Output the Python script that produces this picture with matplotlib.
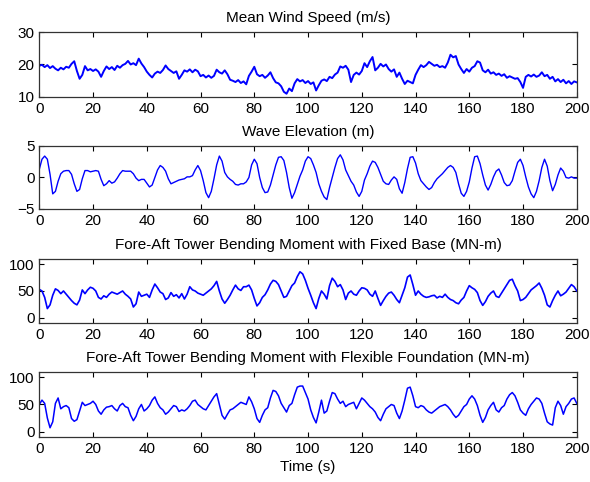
import numpy as np
import matplotlib.pyplot as plt

# Tempo (s), amostrado a cada 1 s
t = np.arange(0, 201)

# Velocidade média do vento (m/s)
wind = [19.6, 19.9, 19.2, 19.8, 18.9, 19.5, 18.7, 18.2, 19.0, 18.5,
        19.3, 19.0, 20.2, 21.0, 18.0, 15.6, 16.8, 19.5, 18.2, 18.6,
        18.0, 18.5, 17.8, 16.2, 18.0, 19.4, 18.6, 19.2, 18.3, 19.6,
        19.0, 19.8, 20.2, 21.1, 20.0, 20.4, 19.8, 21.8, 20.3, 19.2,
        17.8, 16.8, 16.0, 17.2, 17.8, 17.4, 18.3, 19.7, 18.6, 18.0,
        17.4, 17.9, 15.6, 16.8, 18.2, 17.8, 18.5, 17.6, 18.4, 17.9,
        16.4, 16.8, 16.0, 16.6, 15.9, 16.5, 18.4, 17.6, 17.2, 18.2,
        17.0, 15.3, 15.0, 14.6, 15.2, 14.3, 14.8, 13.9, 16.5, 17.8,
        19.3, 17.0, 16.4, 16.8, 15.9, 16.6, 17.6, 15.8, 14.5, 14.2,
        13.3, 11.6, 11.0, 12.6, 11.8, 14.2, 15.5, 14.8, 15.2, 14.3,
        14.9, 14.0, 14.5, 12.0, 13.6, 15.0, 15.4, 14.9, 16.2, 15.8,
        16.9, 17.5, 19.4, 19.0, 19.6, 18.4, 14.6, 16.8, 17.5, 16.9,
        18.0, 20.4, 19.2, 21.0, 22.3, 18.2, 19.0, 20.2, 19.4, 20.0,
        18.6, 17.8, 18.5, 16.2, 17.5, 15.6, 14.0, 15.0, 14.6, 14.2,
        16.8, 18.4, 19.8, 19.2, 19.8, 20.8, 20.2, 19.6, 19.9, 19.2,
        19.5, 19.0, 20.6, 23.0, 22.2, 22.6, 20.0, 18.6, 17.4, 18.6,
        17.8, 19.0, 19.5, 21.0, 20.6, 18.2, 17.6, 18.4, 17.2, 17.6,
        16.8, 17.2, 16.5, 17.0, 15.9, 16.4, 16.0, 15.6, 15.8, 14.6,
        12.8, 16.2, 16.8, 16.3, 16.9, 16.2, 16.6, 17.6, 16.4, 16.8,
        15.6, 16.2, 14.8, 15.5, 14.6, 15.3, 14.2, 14.9, 14.0, 14.8,
        14.5]

# Elevação da onda (m)
wave = [1.3, 2.9, 3.4, 2.9, 0.5, -2.6, -2.2, -0.6, 0.6, 1.0,
        1.1, 1.1, 0.5, -1.0, -2.2, -1.9, -0.2, 1.1, 1.1, 0.9,
        1.0, 1.1, 1.0, -0.3, -1.3, -1.0, -0.5, -0.9, -0.7, -0.1,
        0.6, 1.1, 1.0, 1.0, 1.0, 0.6, -0.1, -0.5, -0.3, -0.3,
        -0.9, -1.5, -1.2, 0.0, 1.2, 1.9, 1.6, 1.0, -0.2, -1.0,
        -0.8, -0.6, -0.4, -0.3, -0.2, 0.1, 0.1, 0.3, 1.2, 1.9,
        1.1, -0.5, -2.4, -3.2, -2.2, -0.2, 2.0, 3.4, 2.6, 0.8,
        0.1, -0.3, -0.6, -1.1, -1.2, -1.0, -1.0, -0.7, 0.0, 2.0,
        2.9, 2.2, 0.0, -1.6, -2.4, -2.3, -1.2, 0.4, 2.0, 3.2,
        3.3, 2.7, 0.8, -1.6, -3.3, -2.4, -1.1, 0.2, 1.2, 2.6,
        3.3, 3.0, 2.0, 0.8, -1.0, -2.2, -3.1, -3.5, -1.6, 0.0,
        1.6, 3.0, 3.6, 2.8, 1.2, 0.3, -0.6, -1.2, -2.3, -3.0,
        -2.2, -0.4, 0.6, 1.8, 2.6, 2.4, 1.6, 0.5, -0.6, -1.0,
        -1.1, -0.4, 0.1, -0.3, -1.8, -2.5, -0.8, 1.4, 3.2, 3.3,
        2.3, 0.6, -0.5, -1.0, -1.5, -1.9, -1.6, -0.8, -0.2, 0.2,
        0.6, 1.1, 1.6, 1.9, 1.6, 0.8, -1.0, -2.5, -3.0, -2.2,
        -0.7, 1.5, 3.3, 3.4, 2.2, 0.4, -1.2, -2.0, -1.1, 0.1,
        1.0, 1.35, 0.4, -0.8, -1.3, -1.2, -0.5, 1.0, 2.4, 2.9,
        1.9, 0.1, -1.5, -2.6, -3.2, -2.2, -0.5, 1.6, 2.9, 1.8,
        -0.5, -2.1, -1.1, 0.4, 1.5, 1.0, 0.0, -0.1, 0.1, -0.1,
        -0.1]

# Momento fletor fore-aft da torre, base fixa (MN-m)
m_fixed = [53, 50, 38, 17, 24, 42, 54, 51, 45, 50,
           44, 38, 32, 27, 24, 33, 52, 45, 52, 57,
           55, 50, 38, 35, 41, 38, 44, 48, 46, 44,
           47, 50, 44, 40, 35, 20, 26, 48, 40, 42,
           44, 38, 52, 63, 56, 48, 45, 34, 37, 47,
           40, 43, 37, 45, 35, 44, 58, 52, 50, 46,
           44, 42, 46, 50, 54, 60, 68, 50, 35, 27,
           34, 42, 52, 61, 54, 51, 58, 58, 61, 52,
           36, 22, 28, 38, 43, 52, 63, 70, 68, 62,
           50, 38, 40, 50, 60, 65, 77, 86, 82, 70,
           55, 42, 28, 17, 36, 50, 44, 35, 60, 74,
           68, 58, 62, 52, 34, 46, 50, 44, 42, 50,
           56, 55, 52, 44, 40, 50, 36, 23, 32, 40,
           46, 48, 42, 34, 28, 42, 56, 76, 80, 62,
           42, 50, 44, 40, 38, 39, 41, 42, 37, 40,
           38, 44, 38, 34, 32, 28, 26, 33, 38, 50,
           60, 56, 53, 47, 32, 23, 30, 40, 46, 50,
           40, 38, 46, 54, 62, 70, 72, 60, 50, 32,
           34, 38, 45, 52, 56, 60, 65, 55, 42, 24,
           20, 32, 42, 50, 41, 44, 48, 55, 62, 58,
           50]

# Momento fletor fore-aft da torre, fundação flexível (MN-m)
m_flex = [50, 58, 52, 25, 7, 18, 52, 62, 42, 46,
          48, 44, 24, 19, 22, 38, 54, 48, 50, 52,
          56, 50, 38, 32, 40, 45, 46, 48, 42, 38,
          48, 52, 46, 44, 30, 20, 28, 42, 50, 38,
          42, 48, 58, 64, 52, 44, 40, 32, 36, 42,
          48, 46, 37, 40, 38, 42, 48, 56, 58, 50,
          46, 42, 40, 48, 56, 64, 70, 50, 30, 23,
          32, 40, 42, 46, 50, 54, 52, 50, 64, 55,
          42, 24, 17, 30, 40, 44, 62, 76, 74, 66,
          52, 44, 36, 48, 52, 68, 82, 84, 84, 72,
          60, 40, 26, 16, 36, 58, 34, 38, 56, 72,
          70, 60, 52, 56, 46, 50, 52, 54, 42, 52,
          62, 58, 52, 46, 42, 36, 26, 20, 32, 42,
          46, 50, 48, 34, 24, 38, 58, 80, 82, 66,
          46, 44, 48, 46, 40, 36, 34, 38, 42, 46,
          48, 50, 46, 40, 32, 26, 30, 38, 46, 50,
          60, 66, 60, 48, 30, 17, 26, 40, 48, 54,
          40, 36, 44, 48, 60, 68, 72, 66, 54, 40,
          34, 30, 42, 50, 56, 62, 60, 52, 34, 18,
          14, 12, 44, 56, 48, 32, 46, 52, 60, 62,
          52]

series = [wind, wave, m_fixed, m_flex]
titles = ["Mean Wind Speed (m/s)", "Wave Elevation (m)",
          "Fore-Aft Tower Bending Moment with Fixed Base (MN-m)",
          "Fore-Aft Tower Bending Moment with Flexible Foundation (MN-m)"]
ylims = [(10, 30), (-5, 5), (-10, 110), (-10, 110)]
yticks = [[10, 20, 30], [-5, 0, 5], [0, 50, 100], [0, 50, 100]]
xticks = np.arange(0, 201, 20)
lws = [1.4, 1.0, 1.2, 1.1]

plt.rcParams['font.family'] = ['Liberation Sans', 'DejaVu Sans']
tick_font = ['Liberation Sans Narrow', 'Liberation Sans', 'DejaVu Sans']

fig = plt.figure(figsize=(5.9, 4.82), dpi=100)

# posições dos eixos (fração da figura), medidas na imagem
pos = [[0.0666, 0.7988, 0.911, 0.1348],
       [0.0666, 0.5664, 0.911, 0.1307],
       [0.0666, 0.3299, 0.911, 0.1328],
       [0.0666, 0.0934, 0.911, 0.1349]]

for i in range(4):
    ax = fig.add_axes(pos[i])
    ax.plot(t, series[i], color='blue', linewidth=lws[i])
    ax.set_xlim(0, 200)
    ax.set_ylim(*ylims[i])
    ax.set_xticks(xticks)
    ax.set_yticks(yticks[i])
    ax.tick_params(direction='in', top=True, right=True, length=3.8,
                   width=0.8, labelsize=11, pad=3.5)
    for lab in ax.get_xticklabels() + ax.get_yticklabels():
        lab.set_family(tick_font)
    for sp in ax.spines.values():
        sp.set_linewidth(0.9)
        sp.set_color('#333333')
    ax.set_title(titles[i], fontsize=11, pad=7)

ax.set_xlabel("Time (s)", fontsize=11, labelpad=3)

fig.savefig("out.png", dpi=100)
